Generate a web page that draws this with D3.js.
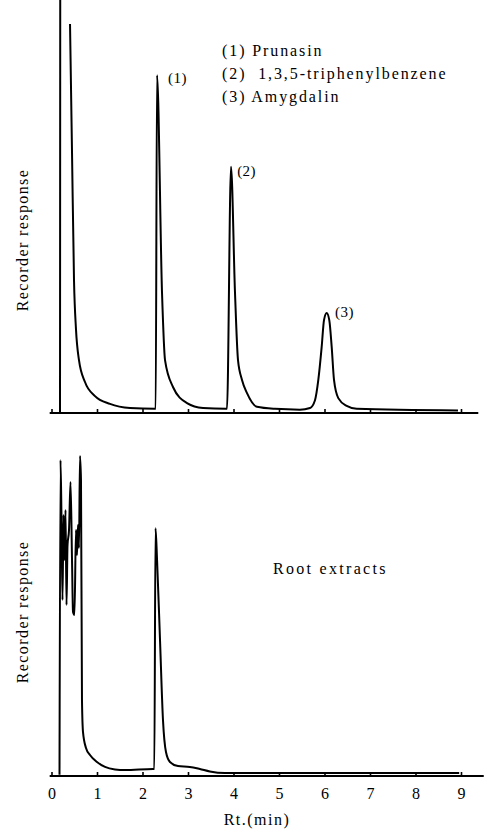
<!DOCTYPE html>
<html><head><meta charset="utf-8">
<script src="https://cdn.jsdelivr.net/npm/d3@7/dist/d3.min.js"></script>
<style>body{margin:0;background:#fff}svg{display:block}text{font-family:"Liberation Serif","DejaVu Serif",serif;fill:#000}</style>
</head><body>
<svg id="c" width="488" height="831"></svg>
<script>
// ---- data ----
const xTicks = [0,1,2,3,4,5,6,7,8,9];
const xLabel = "Rt.(min)";
const yLabel = "Recorder response";
const legendItems = ["(1) Prunasin", "(2)  1,3,5-triphenylbenzene", "(3) Amygdalin"];
const peakNames = ["(1)", "(2)", "(3)"];
const peakLabelTime = [2.56, 4.08, 6.23];
const peakLabelResp = [81, 58.5, 24.5];
const panelTitle = "Root extracts";

// standards chromatogram (top); null = pen break
const topTime = [0.187,0.192,null,0.407,0.451,0.495,0.538,0.604,0.736,0.956,1.286,1.725,2.275,
  2.290,2.319,2.429,2.495,2.670,2.978,3.330,3.835,
  3.857,3.945,4.033,4.099,4.187,4.297,4.516,4.910,
  5.460,5.681,5.791,5.864,5.938,5.989,6.048,6.105,6.158,6.209,6.303,6.488,6.708,8.934];
const topResp = [0,101,null,94.2,63.0,32.0,20.3,12.8,7.5,4.1,2.2,1.2,1.0,
  1.0,81.8,29.1,12.8,6.3,2.4,1.2,1.0,
  1.0,59.6,29.1,12.8,8.0,4.8,1.5,1.0,
  0.8,1.2,3.1,8.0,16.0,22.5,24.2,22.5,16.0,8.0,3.6,1.7,1.0,0.6];

// root extract chromatogram (bottom)
const botTime = [0.176,0.198,0.220,0.242,0.264,0.286,0.308,0.330,0.352,0.385,0.418,0.451,0.473,0.505,
  0.538,0.560,0.582,0.604,0.626,0.648,0.670,0.692,0.758,0.846,1.000,1.176,1.396,1.615,2.230,
  2.260,2.286,2.320,2.385,2.450,2.516,2.604,2.780,3.040,3.260,3.480,3.810,5.460,8.960];
const botResp = [0.3,76.5,62,42.6,63.2,52.3,64.4,41.4,55.9,59.6,71.2,52.3,39.7,39.0,
  59.6,53.5,60.8,55.2,77.5,71.7,18.4,10.7,6.8,5.1,3.4,2.2,1.6,1.45,1.7,
  1.7,60,52.3,32.9,13.6,5.8,3.4,2.4,2.2,1.7,1.1,0.73,0.73,0.73];

// ---- drawing ----
const svg = d3.select("#c");
const x = d3.scaleLinear().domain([0,9]).range([51.5,461]);
const yTop = d3.scaleLinear().domain([0,100]).range([413,0]);
const yBot = d3.scaleLinear().domain([0,100]).range([776,363]);

function trace(times, resp, y){
  const pts = times.map((t,i)=>({t, v: resp[i]}));
  const line = d3.line().defined(d=>d.t!=null && d.v!=null)
    .x(d=>x(d.t)).y(d=>y(d.v)).curve(d3.curveMonotoneX);
  svg.append("path").attr("d", line(pts)).attr("fill","none")
    .attr("stroke","#000").attr("stroke-width",2).attr("stroke-linejoin","round");
}

function axis(y, extentMax, labels){
  const g = svg.append("g").attr("transform",`translate(0,${y(0)})`);
  const ax = d3.axisBottom(x).tickValues(xTicks).tickSize(-4).tickPadding(12)
    .tickFormat(labels ? d3.format("d") : () => "");
  g.call(ax);
  g.select(".domain").remove();
  g.selectAll(".tick line").attr("stroke","#000").attr("stroke-width",1.6);
  g.selectAll(".tick text").attr("font-size",16).attr("font-family","Liberation Serif").attr("fill","#000");
  g.append("line").attr("x1",x(-0.04)).attr("x2",x(extentMax)).attr("y1",0).attr("y2",0)
    .attr("stroke","#000").attr("stroke-width",2);
}

axis(yTop, 9.38, false);
axis(yBot, 9.5, true);
trace(topTime, topResp, yTop);
trace(botTime, botResp, yBot);

// y labels
[[22,240],[22,612]].forEach(([cx,cy])=>{
  svg.append("text").attr("transform",`translate(${cx},${cy}) rotate(-90)`)
    .attr("text-anchor","middle").attr("dominant-baseline","central")
    .attr("font-size",16).attr("letter-spacing",1.4).text(yLabel);
});

// x label
svg.append("text").attr("x",257).attr("y",825).attr("text-anchor","middle")
  .attr("font-size",16).attr("letter-spacing",1.5).text(xLabel);

// legend
legendItems.forEach((s,i)=>{
  svg.append("text").attr("x",222).attr("y",56+i*23).attr("font-size",16)
    .attr("letter-spacing",1.9).attr("xml:space","preserve").style("white-space","pre").text(s);
});

// peak labels
peakNames.forEach((s,i)=>{
  svg.append("text").attr("x",x(peakLabelTime[i])).attr("y",yTop(peakLabelResp[i])+5)
    .attr("font-size",15).attr("letter-spacing",0.5).text(s);
});

svg.append("text").attr("x",273).attr("y",574).attr("font-size",16)
  .attr("letter-spacing",2.3).text(panelTitle);
</script>
</body></html>
